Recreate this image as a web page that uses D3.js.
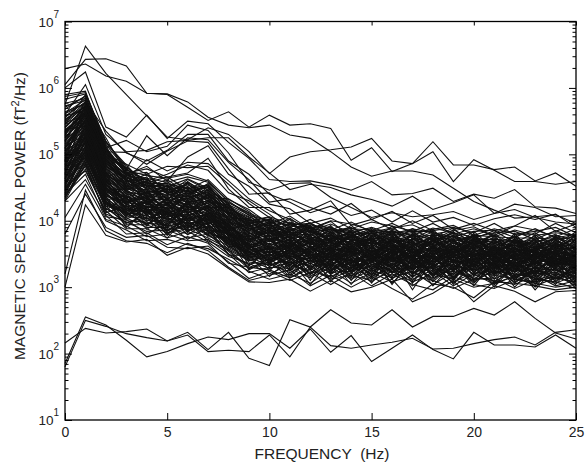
<!DOCTYPE html>
<html>
<head>
<meta charset="utf-8">
<script src="https://cdn.jsdelivr.net/npm/d3@7"></script>
<style>
html, body { margin: 0; padding: 0; background: #fff; }
text { font-family: "Liberation Sans", Arial, sans-serif; fill: #222; }
</style>
</head>
<body>
<div id="container"></div>
<script>
const frequency = [0,1,2,3,4,5,6,7,8,9,10,11,12,13,14,15,16,17,18,19,20,21,22,23,24,25];
const xTicks = [0,5,10,15,20,25];
const yDecades = [1,2,3,4,5,6,7];
const yMinor = [2,3,4,5,6,7,8,9];

// all series are log10 of spectral power
const lowerSeries = [
  [1.85,2.55,2.43,2.2,1.95,2.03,2.15,2.25,2.21,2.30,2.30,2.08,2.37,2.02,2.27,1.88,2.08,2.28,2.06,1.92,2.32,2.13,2.13,2.10,2.28,2.08],
  [2.16,2.38,2.31,2.33,2.37,2.19,2.32,2.06,2.32,1.93,1.82,2.51,2.40,2.66,2.46,2.43,2.66,2.40,2.56,2.56,2.68,2.58,2.78,2.53,2.31,2.22],
  [1.80,2.50,2.41,2.30,2.24,2.19,2.28,2.03,2.05,2.03,2.28,1.95,2.40,2.12,2.08,2.13,2.17,2.23,2.07,2.08,2.15,2.21,2.25,2.13,2.32,2.36]
];

const upperSeries = [
  [6.05,6.43,6.44,6.33,5.92,5.90,5.71,5.51,5.64,5.41,5.59,5.44,5.46,5.39,4.91,5.10,4.74,4.86,5.19,4.84,4.84,4.77,4.81,4.60,4.72,4.52],
  [6.29,6.36,6.18,6.10,5.92,5.91,5.79,5.56,5.44,5.40,5.44,5.29,5.24,5.04,4.81,4.67,4.75,4.75,4.69,4.49,4.29,4.16,4.04,4.06,4.09,3.96],
  [5.75,6.63,6.22,5.90,5.58,5.26,5.22,5.40,5.30,5.04,4.71,4.96,5.04,5.07,5.11,5.24,4.90,4.86,5.04,4.59,4.92,4.76,4.59,4.59,4.55,4.59],
  [6.00,6.24,5.41,5.26,5.59,5.24,5.50,5.46,5.18,4.94,4.62,4.59,4.60,4.54,4.46,4.59,4.39,4.41,4.49,4.29,4.40,4.34,4.47,4.21,4.19,4.11],
  [5.60,6.05,5.30,5.04,5.06,5.19,5.21,5.25,5.25,4.96,4.72,4.47,4.55,4.50,4.39,4.32,4.22,4.37,4.17,4.27,4.39,4.11,4.25,4.20,4.06,4.08],
  [5.90,5.95,5.10,5.21,5.04,5.12,5.44,5.36,5.02,4.58,4.46,4.56,4.57,4.35,4.20,4.05,4.12,4.06,4.09,4.14,4.02,4.11,4.17,4.05,3.98,3.95],
  [5.20,5.80,5.35,5.02,4.90,5.06,5.30,5.30,4.90,4.70,4.40,4.28,4.12,4.22,4.08,4.16,3.98,4.15,3.98,4.05,3.93,4.03,4.09,4.02,4.10,3.90],
  [5.45,5.90,5.20,4.78,5.28,4.98,5.25,5.22,4.88,4.62,4.28,4.33,4.20,4.10,4.26,4.02,4.14,3.96,4.08,3.87,3.96,3.85,3.92,4.08,3.84,3.95],
  [5.00,5.60,5.04,5.03,4.85,5.05,5.20,5.18,4.78,4.40,4.42,4.10,4.16,4.30,3.93,4.02,3.87,4.00,3.85,3.90,3.82,3.96,3.79,3.80,3.96,3.82],
  [5.30,5.70,5.25,4.70,4.82,4.60,4.96,5.13,4.70,4.52,4.25,4.18,3.96,4.04,3.88,3.98,3.92,3.84,3.96,3.80,3.88,3.78,3.92,3.86,3.76,3.88],
  [4.70,5.50,4.95,4.62,4.92,4.75,4.88,4.86,4.60,4.33,4.15,4.02,3.88,4.00,3.95,3.85,3.96,3.82,3.87,3.93,3.78,3.88,3.80,3.84,3.90,3.76],
  [5.10,5.65,5.00,4.85,4.70,4.82,4.80,4.82,4.55,4.26,4.05,3.90,4.02,3.86,3.98,3.83,3.89,3.94,3.80,3.85,3.91,3.76,3.86,3.78,3.82,3.78],
  [4.90,5.75,5.05,4.72,4.78,4.66,4.72,4.94,4.48,4.20,4.20,3.94,3.85,3.95,3.82,3.90,3.80,3.88,3.82,3.76,3.84,3.86,3.75,3.88,3.74,3.80],
  [5.55,5.85,4.98,4.80,4.60,4.70,4.84,4.76,4.42,4.30,4.10,3.86,3.96,3.82,3.89,3.80,3.85,3.78,3.89,3.82,3.75,3.82,3.84,3.72,3.85,3.74]
];

const bandSeries = [
  [3.00,4.24,3.78,3.68,3.72,3.48,3.60,3.50,3.28,3.08,3.07,3.12,2.94,3.10,2.93,3.00,3.12,2.78,2.91,3.10,2.78,3.02,2.94,2.78,2.93,2.95],
  [3.20,4.46,3.85,3.70,3.66,3.52,3.66,3.55,3.30,3.10,3.18,3.26,3.02,3.18,3.00,3.16,2.98,2.82,3.05,3.00,2.84,3.08,3.06,3.02,2.96,3.00],
  [3.80,4.40,3.90,3.75,3.78,3.60,3.58,3.62,3.38,3.13,3.24,3.10,3.22,3.04,3.22,3.02,3.20,3.04,2.96,3.16,3.04,2.98,3.12,3.06,3.00,3.04],
  [4.05,4.55,4.00,3.86,3.70,3.72,3.64,3.58,3.42,3.24,3.12,3.20,3.06,3.26,3.06,3.22,3.08,3.18,3.10,2.98,3.12,3.14,2.98,3.12,3.08,2.98],
  [4.30,4.62,4.08,3.80,3.82,3.64,3.76,3.66,3.36,3.30,3.26,3.14,3.28,3.12,3.18,3.10,3.24,3.08,3.20,3.12,3.00,3.06,3.16,3.02,3.14,3.08],
  [4.40,4.70,4.02,3.92,3.76,3.80,3.70,3.72,3.50,3.22,3.30,3.28,3.14,3.30,3.12,3.26,3.14,3.24,3.04,3.22,3.14,3.10,3.04,3.18,3.02,3.10],
  [4.52,4.75,4.15,3.88,3.88,3.74,3.84,3.68,3.46,3.36,3.20,3.34,3.24,3.16,3.30,3.16,3.30,3.12,3.26,3.08,3.22,3.18,3.12,3.08,3.16,3.06],
  [4.48,4.82,4.10,3.98,3.84,3.86,3.74,3.80,3.54,3.28,3.36,3.22,3.36,3.22,3.24,3.32,3.18,3.30,3.14,3.28,3.10,3.24,3.20,3.14,3.06,3.18],
  [4.60,4.88,4.22,3.94,3.94,3.82,3.88,3.74,3.58,3.42,3.28,3.38,3.20,3.34,3.18,3.28,3.36,3.16,3.32,3.18,3.28,3.08,3.26,3.20,3.22,3.12],
  [4.35,4.92,4.18,4.04,3.90,3.90,3.80,3.86,3.50,3.34,3.42,3.26,3.40,3.26,3.36,3.20,3.26,3.38,3.20,3.24,3.16,3.30,3.14,3.26,3.18,3.24],
  [4.70,4.95,4.30,4.00,3.98,3.86,3.94,3.78,3.62,3.46,3.32,3.44,3.30,3.38,3.26,3.38,3.22,3.28,3.36,3.16,3.34,3.20,3.32,3.16,3.28,3.14],
  [4.58,5.00,4.26,4.10,3.96,3.94,3.86,3.92,3.56,3.40,3.46,3.34,3.44,3.30,3.42,3.24,3.40,3.22,3.30,3.34,3.24,3.36,3.18,3.30,3.12,3.26],
  [4.80,5.02,4.36,4.06,4.04,3.92,3.98,3.84,3.66,3.50,3.38,3.48,3.32,3.46,3.28,3.44,3.30,3.42,3.24,3.38,3.20,3.28,3.38,3.22,3.34,3.20],
  [4.45,5.06,4.32,4.16,4.00,4.00,3.90,3.96,3.60,3.44,3.50,3.36,3.50,3.34,3.46,3.34,3.44,3.26,3.44,3.26,3.40,3.22,3.30,3.36,3.24,3.32],
  [4.90,5.10,4.42,4.12,4.08,3.96,4.04,3.90,3.70,3.54,3.40,3.52,3.38,3.42,3.40,3.48,3.28,3.46,3.34,3.40,3.30,3.44,3.26,3.38,3.30,3.22],
  [4.65,5.12,4.38,4.22,4.06,4.04,3.96,4.02,3.64,3.48,3.54,3.42,3.54,3.40,3.50,3.30,3.46,3.36,3.48,3.30,3.46,3.32,3.42,3.28,3.40,3.28],
  [5.00,5.16,4.46,4.18,4.14,4.02,4.10,3.94,3.74,3.58,3.44,3.56,3.44,3.52,3.36,3.52,3.38,3.50,3.32,3.46,3.34,3.38,3.46,3.32,3.36,3.34],
  [4.75,5.18,4.44,4.26,4.10,4.10,4.00,4.06,3.68,3.52,3.58,3.46,3.48,3.56,3.44,3.40,3.54,3.34,3.52,3.36,3.42,3.48,3.30,3.44,3.32,3.38],
  [4.55,5.20,4.50,4.24,4.18,4.06,4.14,3.98,3.78,3.62,3.48,3.60,3.50,3.44,3.54,3.46,3.42,3.54,3.38,3.50,3.38,3.34,3.48,3.36,3.44,3.30],
  [4.85,5.24,4.48,4.30,4.12,4.14,4.04,4.10,3.72,3.56,3.62,3.50,3.58,3.48,3.48,3.56,3.34,3.48,3.46,3.42,3.50,3.40,3.36,3.46,3.34,3.42],
  [5.05,5.26,4.56,4.28,4.22,4.08,4.18,4.02,3.82,3.66,3.52,3.64,3.46,3.58,3.52,3.44,3.58,3.40,3.54,3.40,3.36,3.52,3.42,3.34,3.48,3.36],
  [4.62,5.28,4.52,4.34,4.16,4.16,4.08,4.14,3.76,3.60,3.66,3.54,3.62,3.46,3.58,3.50,3.48,3.58,3.42,3.54,3.44,3.42,3.50,3.40,3.38,3.46],
  [4.95,5.32,4.60,4.32,4.26,4.12,4.22,4.06,3.86,3.70,3.56,3.68,3.52,3.60,3.46,3.60,3.44,3.52,3.56,3.44,3.52,3.46,3.34,3.50,3.42,3.40],
  [4.72,5.34,4.58,4.38,4.20,4.20,4.12,4.18,3.80,3.64,3.70,3.58,3.66,3.54,3.62,3.42,3.60,3.46,3.60,3.48,3.40,3.56,3.44,3.42,3.50,3.34],
  [5.10,5.38,4.64,4.36,4.30,4.18,4.26,4.10,3.90,3.74,3.60,3.62,3.56,3.64,3.50,3.58,3.52,3.62,3.44,3.58,3.48,3.50,3.52,3.38,3.46,3.44],
  [4.82,5.40,4.62,4.42,4.24,4.24,4.16,4.22,3.84,3.68,3.74,3.66,3.70,3.50,3.66,3.54,3.62,3.44,3.62,3.46,3.56,3.42,3.56,3.48,3.40,3.48],
  [5.15,5.44,4.68,4.40,4.34,4.22,4.30,4.14,3.94,3.78,3.64,3.72,3.60,3.68,3.56,3.64,3.50,3.66,3.50,3.62,3.46,3.58,3.46,3.54,3.44,3.38],
  [4.68,5.46,4.66,4.46,4.28,4.28,4.20,4.26,3.88,3.72,3.78,3.60,3.74,3.58,3.70,3.48,3.64,3.56,3.58,3.52,3.60,3.48,3.54,3.46,3.52,3.46],
  [5.20,5.50,4.72,4.44,4.38,4.26,4.34,4.18,3.98,3.82,3.68,3.76,3.64,3.72,3.60,3.68,3.56,3.60,3.64,3.50,3.64,3.44,3.60,3.42,3.56,3.42],
  [4.88,5.52,4.70,4.50,4.32,4.32,4.24,4.30,3.92,3.76,3.82,3.70,3.68,3.62,3.74,3.58,3.70,3.52,3.66,3.56,3.54,3.62,3.48,3.58,3.46,3.50],
  [5.25,5.55,4.76,4.48,4.42,4.30,4.38,4.22,4.02,3.86,3.72,3.80,3.72,3.66,3.64,3.72,3.54,3.68,3.54,3.66,3.50,3.60,3.58,3.52,3.54,3.48],
  [4.98,5.58,4.74,4.54,4.36,4.36,4.28,4.34,3.96,3.80,3.86,3.74,3.76,3.70,3.68,3.62,3.74,3.58,3.70,3.60,3.62,3.54,3.64,3.50,3.60,3.44],
  [5.30,5.60,4.80,4.52,4.46,4.34,4.42,4.26,4.06,3.90,3.76,3.84,3.66,3.74,3.72,3.66,3.68,3.72,3.60,3.54,3.68,3.58,3.52,3.62,3.50,3.54],
  [5.08,5.62,4.78,4.58,4.40,4.40,4.32,4.38,4.00,3.84,3.90,3.78,3.80,3.64,3.76,3.70,3.60,3.64,3.74,3.62,3.58,3.66,3.56,3.56,3.64,3.52],
  [5.35,5.65,4.84,4.56,4.50,4.38,4.46,4.30,4.10,3.94,3.80,3.88,3.74,3.78,3.66,3.74,3.72,3.66,3.62,3.70,3.56,3.52,3.66,3.54,3.58,3.58],
  [4.78,5.68,4.82,4.62,4.44,4.44,4.36,4.42,4.04,3.88,3.94,3.82,3.84,3.76,3.80,3.64,3.76,3.70,3.68,3.58,3.72,3.64,3.60,3.68,3.48,3.62],
  [5.40,5.70,4.88,4.60,4.54,4.42,4.50,4.34,4.14,3.98,3.84,3.90,3.78,3.82,3.70,3.78,3.66,3.76,3.64,3.72,3.66,3.70,3.54,3.60,3.66,3.56],
  [5.18,5.72,4.86,4.66,4.48,4.48,4.40,4.46,4.08,3.92,3.98,3.86,3.86,3.72,3.84,3.72,3.80,3.62,3.76,3.66,3.60,3.68,3.68,3.58,3.62,3.64],
  [5.45,5.74,4.92,4.64,4.58,4.46,4.54,4.38,4.18,4.02,3.88,3.94,3.82,3.88,3.74,3.82,3.70,3.78,3.72,3.74,3.70,3.62,3.72,3.64,3.56,3.68],
  [4.92,5.76,4.90,4.70,4.52,4.52,4.44,4.50,4.12,3.96,4.02,3.92,3.90,3.80,3.86,3.76,3.84,3.74,3.66,3.78,3.64,3.74,3.62,3.70,3.70,3.60],
  [5.50,5.78,4.96,4.68,4.62,4.50,4.58,4.42,4.22,4.06,3.92,3.98,3.88,3.84,3.90,3.70,3.86,3.68,3.80,3.70,3.76,3.66,3.76,3.60,3.74,3.66],
  [5.28,5.80,5.00,4.74,4.56,4.56,4.48,4.54,4.16,4.00,4.06,3.96,3.92,3.90,3.78,3.84,3.78,3.82,3.70,3.82,3.68,3.78,3.66,3.72,3.60,3.72],
  [4.50,5.45,4.55,4.28,4.35,4.10,4.25,4.05,3.72,3.58,3.42,3.50,3.40,3.50,3.32,3.36,3.48,3.28,3.40,3.32,3.26,3.34,3.24,3.28,3.26,3.16],
  [5.12,5.30,4.40,4.20,4.02,4.18,3.92,4.08,3.82,3.52,3.60,3.30,3.46,3.28,3.38,3.42,3.24,3.32,3.28,3.20,3.36,3.12,3.28,3.10,3.20,3.10],
  [4.38,5.08,4.25,4.14,4.22,3.84,4.06,3.88,3.64,3.38,3.34,3.40,3.16,3.36,3.14,3.34,3.16,3.34,3.12,3.30,3.08,3.26,3.08,3.24,3.10,3.22],
  [5.38,5.42,4.62,4.24,4.44,4.14,4.38,4.00,3.96,3.62,3.72,3.44,3.60,3.32,3.56,3.26,3.52,3.20,3.50,3.14,3.44,3.16,3.40,3.12,3.38,3.02],
  [4.60,5.22,4.70,4.08,4.30,3.88,4.32,3.82,3.86,3.32,3.58,3.18,3.52,3.08,3.44,3.06,3.46,2.96,3.42,3.04,3.40,3.00,3.34,2.96,3.30,2.98],
  [5.48,5.58,5.02,4.52,4.66,4.24,4.52,4.20,4.20,3.72,3.88,3.54,3.78,3.42,3.72,3.38,3.66,3.30,3.62,3.26,3.58,3.24,3.50,3.20,3.52,3.26],
  [5.22,5.48,4.66,4.76,4.24,4.54,4.10,4.40,3.88,3.94,3.50,3.74,3.34,3.70,3.24,3.62,3.22,3.56,3.18,3.48,3.18,3.46,3.22,3.40,3.16,3.52],
  [4.42,5.14,4.16,4.36,3.92,4.28,3.82,4.16,3.60,3.66,3.24,3.58,3.10,3.54,3.10,3.50,3.04,3.44,3.02,3.36,3.02,3.40,3.00,3.32,3.04,3.40],
  [5.58,5.66,5.06,4.58,4.70,4.40,4.62,4.46,4.26,3.88,3.96,3.68,3.86,3.60,3.78,3.52,3.82,3.48,3.78,3.44,3.74,3.36,3.70,3.34,3.68,3.30],
  [4.84,5.36,4.46,4.48,4.12,4.34,4.02,4.24,3.78,3.76,3.46,3.62,3.26,3.60,3.20,3.54,3.32,3.60,3.16,3.52,3.22,3.50,3.10,3.44,3.08,3.36],
  [5.02,5.54,4.74,4.34,4.48,4.08,4.46,3.96,4.02,3.54,3.66,3.32,3.62,3.22,3.60,3.18,3.56,3.14,3.52,3.12,3.50,3.06,3.46,3.04,3.42,3.08],
  [5.62,5.82,5.08,4.72,4.64,4.58,4.66,4.58,4.30,4.08,4.00,3.84,3.94,3.86,3.82,3.80,3.88,3.76,3.78,3.76,3.72,3.72,3.70,3.66,3.78,3.70],
  [4.66,5.04,4.34,3.90,4.16,3.78,4.12,3.76,3.74,3.26,3.44,3.16,3.42,3.14,3.34,3.12,3.36,3.10,3.34,3.06,3.32,3.04,3.36,3.00,3.36,3.04],
  [5.32,5.64,4.94,4.50,4.60,4.32,4.56,4.28,4.24,3.80,3.94,3.58,3.90,3.50,3.84,3.46,3.76,3.42,3.72,3.38,3.70,3.30,3.74,3.26,3.66,3.24],
  [4.76,5.26,4.54,4.26,4.36,3.98,4.30,3.92,3.90,3.46,3.64,3.24,3.56,3.20,3.48,3.14,3.50,3.06,3.48,3.10,3.48,3.12,3.44,3.08,3.40,3.14],
  [5.68,5.88,5.04,4.76,4.68,4.64,4.70,4.60,4.28,4.12,3.98,3.94,3.96,3.82,3.88,3.86,3.82,3.84,3.84,3.68,3.78,3.76,3.74,3.74,3.72,3.76],
  [4.30,4.86,4.06,4.02,3.80,3.96,3.72,3.90,3.48,3.48,3.16,3.42,3.04,3.42,3.04,3.40,3.06,3.36,3.08,3.34,3.06,3.36,3.06,3.30,3.12,3.34],
  [5.42,5.70,4.86,4.62,4.40,4.48,4.26,4.36,3.84,3.98,3.56,3.80,3.42,3.76,3.36,3.70,3.38,3.64,3.34,3.60,3.32,3.56,3.32,3.48,3.28,3.58],
  [4.54,4.98,4.28,3.96,4.10,3.80,3.98,3.70,3.56,3.30,3.38,3.14,3.32,3.12,3.26,3.08,3.28,3.02,3.24,3.02,3.20,3.04,3.18,3.06,3.18,3.02],
  [5.06,5.46,4.64,4.44,4.20,4.30,4.08,4.20,3.76,3.70,3.36,3.60,3.18,3.56,3.16,3.46,3.12,3.40,3.10,3.42,3.12,3.32,3.16,3.26,3.14,3.30],
  [5.52,5.72,4.98,4.66,4.52,4.54,4.34,4.44,4.02,4.04,3.70,3.90,3.58,3.80,3.52,3.74,3.46,3.70,3.42,3.64,3.42,3.60,3.40,3.56,3.36,3.50],
  [4.86,5.34,4.60,4.14,4.34,3.92,4.28,3.86,3.84,3.42,3.62,3.26,3.64,3.24,3.54,3.22,3.58,3.18,3.56,3.24,3.54,3.18,3.52,3.22,3.46,3.20]
];

const denseSeries = [
  [5.05,5.41,4.71,4.33,4.19,4.27,4.02,4.11,3.97,3.83,3.61,3.77,3.53,3.71,3.37,3.55,3.63,3.41,3.52,3.73,3.34,3.62,3.45,3.29,3.67,3.41],
  [4.57,5.12,4.49,4.41,4.08,3.93,4.21,4.07,3.92,3.71,3.83,3.49,3.68,3.56,3.81,3.33,3.47,3.69,3.38,3.51,3.66,3.28,3.57,3.72,3.35,3.59],
  [5.71,5.87,5.13,4.52,4.37,4.46,4.18,4.31,4.12,3.95,3.72,3.59,3.84,3.47,3.62,3.75,3.41,3.57,3.74,3.36,3.53,3.69,3.31,3.49,3.63,3.27],
  [4.33,4.91,4.24,4.11,4.29,4.03,3.89,4.14,3.83,3.58,3.69,3.85,3.42,3.63,3.51,3.68,3.79,3.37,3.59,3.45,3.71,3.38,3.64,3.52,3.39,3.74],
  [5.34,5.63,4.93,4.61,4.27,4.38,4.49,4.17,4.06,4.01,3.77,3.66,3.52,3.79,3.64,3.43,3.71,3.58,3.33,3.68,3.47,3.55,3.78,3.37,3.54,3.61],
  [4.91,5.27,4.37,4.29,4.43,4.12,4.06,4.23,3.94,3.67,3.88,3.55,3.73,3.38,3.69,3.57,3.35,3.74,3.49,3.62,3.29,3.63,3.41,3.66,3.25,3.47],
  [5.83,5.91,5.17,4.84,4.51,4.62,4.41,4.52,4.19,3.99,4.05,3.73,3.89,3.67,3.54,3.82,3.63,3.45,3.69,3.81,3.56,3.44,3.71,3.58,3.33,3.69],
  [4.47,5.03,4.41,4.19,3.99,4.21,4.14,3.97,3.87,3.79,3.55,3.71,3.48,3.31,3.59,3.46,3.72,3.53,3.29,3.57,3.39,3.61,3.27,3.53,3.44,3.35],
  [5.26,5.59,4.83,4.47,4.59,4.24,4.33,4.44,4.08,3.86,3.99,3.62,3.81,3.58,3.76,3.39,3.61,3.79,3.47,3.69,3.52,3.33,3.62,3.77,3.41,3.53],
  [4.73,5.18,4.31,4.38,4.11,4.26,3.91,4.03,3.95,3.62,3.74,3.41,3.57,3.74,3.29,3.53,3.67,3.32,3.55,3.28,3.64,3.47,3.23,3.59,3.68,3.31],
  [5.77,5.84,5.09,4.69,4.73,4.41,4.57,4.35,4.33,4.14,3.86,4.02,3.71,3.93,3.61,3.81,3.54,3.73,3.87,3.56,3.77,3.49,3.81,3.47,3.71,3.51],
  [4.39,4.78,4.12,4.23,3.87,4.07,3.79,3.99,3.71,3.51,3.47,3.67,3.25,3.47,3.41,3.19,3.56,3.27,3.46,3.19,3.49,3.21,3.43,3.17,3.49,3.24],
  [5.16,5.51,4.67,4.56,4.32,4.44,4.11,4.29,4.11,3.77,3.91,3.69,3.47,3.83,3.57,3.69,3.43,3.81,3.58,3.39,3.72,3.54,3.37,3.69,3.47,3.63],
  [4.63,5.31,4.43,4.07,4.25,3.96,4.17,3.85,3.81,3.63,3.37,3.53,3.69,3.29,3.63,3.37,3.54,3.23,3.63,3.41,3.31,3.58,3.26,3.51,3.33,3.45],
  [5.64,5.76,5.01,4.79,4.46,4.59,4.37,4.56,4.24,4.09,3.81,3.97,3.76,3.61,3.87,3.64,3.77,3.51,3.66,3.84,3.47,3.71,3.59,3.39,3.76,3.57],
  [4.81,5.21,4.51,4.17,4.31,4.01,3.84,4.09,3.89,3.57,3.79,3.37,3.61,3.44,3.28,3.61,3.39,3.63,3.26,3.46,3.59,3.26,3.53,3.35,3.57,3.18],
  [5.41,5.69,4.89,4.63,4.42,4.52,4.27,4.47,4.14,3.91,4.03,3.78,3.93,3.53,3.79,3.59,3.84,3.47,3.73,3.53,3.81,3.41,3.67,3.62,3.52,3.79],
  [4.52,5.09,4.33,4.02,4.18,3.86,4.03,3.94,3.67,3.49,3.59,3.29,3.39,3.58,3.22,3.41,3.61,3.19,3.41,3.59,3.22,3.43,3.11,3.42,3.59,3.28],
  [5.57,5.79,5.11,4.71,4.55,4.47,4.51,4.32,4.21,4.02,3.93,3.81,3.67,3.89,3.71,3.87,3.59,3.71,3.83,3.61,3.84,3.57,3.76,3.43,3.65,3.83],
  [4.97,5.37,4.59,4.31,4.09,4.33,3.97,4.19,3.91,3.69,3.85,3.51,3.74,3.36,3.67,3.49,3.31,3.67,3.43,3.24,3.57,3.34,3.61,3.31,3.51,3.37],
  [5.09,5.53,4.79,4.43,4.39,4.17,4.41,4.13,4.04,3.82,3.64,3.88,3.59,3.79,3.42,3.73,3.51,3.61,3.77,3.47,3.67,3.37,3.56,3.71,3.29,3.66],
  [4.44,4.87,4.22,4.13,3.93,4.13,3.86,3.91,3.79,3.44,3.53,3.44,3.21,3.41,3.53,3.27,3.44,3.48,3.18,3.43,3.27,3.49,3.19,3.37,3.54,3.21],
  [5.73,5.81,5.15,4.77,4.61,4.51,4.63,4.49,4.27,4.11,3.89,4.04,3.83,3.72,3.93,3.68,3.92,3.65,3.75,3.89,3.61,3.82,3.51,3.79,3.58,3.77],
  [4.69,5.16,4.47,4.21,4.27,4.09,3.94,4.04,3.77,3.73,3.43,3.63,3.51,3.24,3.47,3.63,3.27,3.51,3.37,3.57,3.33,3.29,3.47,3.57,3.21,3.43],
  [5.24,5.61,4.91,4.49,4.47,4.37,4.23,4.39,3.99,3.89,3.75,3.92,3.63,3.83,3.49,3.78,3.66,3.43,3.71,3.51,3.69,3.59,3.33,3.63,3.73,3.48],
  [4.36,4.83,4.19,3.97,4.05,3.74,4.09,3.83,3.69,3.55,3.31,3.47,3.35,3.49,3.16,3.44,3.23,3.42,3.21,3.47,3.17,3.41,3.29,3.13,3.45,3.16],
  [5.49,5.71,5.03,4.59,4.63,4.31,4.59,4.37,4.16,3.97,3.84,3.71,3.92,3.68,3.83,3.51,3.73,3.86,3.53,3.75,3.63,3.79,3.44,3.75,3.49,3.72],
  [4.77,5.29,4.57,4.09,4.21,4.19,3.88,4.01,3.85,3.61,3.51,3.69,3.43,3.57,3.33,3.56,3.41,3.29,3.57,3.31,3.46,3.31,3.59,3.27,3.41,3.55],
  [5.33,5.67,4.81,4.67,4.35,4.49,4.19,4.41,4.09,3.85,3.97,3.63,3.79,3.91,3.59,3.83,3.49,3.74,3.59,3.79,3.41,3.67,3.63,3.44,3.70,3.39],
  [4.49,4.96,4.27,4.16,4.13,3.91,4.01,3.79,3.75,3.47,3.41,3.57,3.28,3.53,3.43,3.17,3.47,3.26,3.51,3.14,3.38,3.52,3.13,3.39,3.19,3.57],
  [5.87,5.93,5.19,4.81,4.57,4.66,4.47,4.62,4.32,4.17,3.95,4.07,3.87,3.99,3.75,3.89,3.69,3.88,3.71,3.86,3.73,3.85,3.67,3.82,3.61,3.80],
  [4.89,5.23,4.45,4.37,4.15,4.23,3.99,4.12,3.93,3.59,3.73,3.46,3.71,3.33,3.58,3.41,3.69,3.36,3.61,3.37,3.61,3.23,3.49,3.46,3.31,3.49],
  [5.13,5.49,4.73,4.46,4.29,4.35,4.16,4.27,4.01,3.75,3.87,3.75,3.55,3.69,3.85,3.48,3.75,3.55,3.35,3.71,3.43,3.73,3.39,3.55,3.77,3.32],
  [4.41,4.94,4.36,4.05,4.17,3.82,3.93,3.81,3.73,3.40,3.49,3.35,3.45,3.19,3.39,3.24,3.33,3.47,3.16,3.39,3.11,3.38,3.23,3.49,3.26,3.13],
  [5.61,5.77,5.07,4.73,4.49,4.56,4.43,4.54,4.18,4.05,3.78,3.86,3.97,3.75,3.68,3.85,3.57,3.80,3.62,3.77,3.58,3.76,3.49,3.67,3.80,3.54],
  [4.64,5.11,4.39,4.25,4.03,4.15,3.95,4.05,3.83,3.65,3.39,3.65,3.37,3.61,3.31,3.52,3.29,3.59,3.31,3.53,3.25,3.51,3.35,3.19,3.55,3.26],
  [5.37,5.62,4.87,4.54,4.53,4.25,4.45,4.21,4.13,3.93,3.69,3.83,3.65,3.87,3.55,3.76,3.62,3.39,3.81,3.49,3.75,3.47,3.73,3.41,3.61,3.74],
  [4.94,5.33,4.63,4.27,4.38,4.05,4.24,4.15,3.81,3.78,3.58,3.43,3.72,3.43,3.61,3.29,3.57,3.44,3.27,3.63,3.35,3.57,3.29,3.61,3.37,3.43],
  [5.53,5.73,4.97,4.69,4.41,4.53,4.29,4.51,4.23,3.96,4.01,3.75,3.91,3.70,3.77,3.65,3.85,3.53,3.69,3.58,3.79,3.52,3.69,3.53,3.75,3.60],
  [4.46,5.01,4.29,4.12,3.95,4.11,3.85,3.95,3.65,3.53,3.35,3.56,3.30,3.45,3.24,3.47,3.21,3.39,3.29,3.11,3.41,3.19,3.37,3.24,3.43,3.11]
];

const width = 586, height = 462;
const margin = { left: 65, top: 21.5, right: 10, bottom: 42 };

function main() {
    const svg = d3.select("#container")
        .append("svg")
        .attr("width", width)
        .attr("height", height);

    const x = d3.scaleLinear()
        .domain([0, 25])
        .range([margin.left, width - margin.right]);
    const y = d3.scaleLog()
        .domain([10, 1e7])
        .range([height - margin.bottom, margin.top]);

    const line = d3.line()
        .x((d, i) => x(frequency[i]))
        .y(d => y(Math.pow(10, d)));

    svg.append("g")
        .selectAll("path")
        .data([...bandSeries, ...denseSeries, ...upperSeries, ...lowerSeries])
        .join("path")
        .attr("d", line)
        .attr("fill", "none")
        .attr("stroke", "#111")
        .attr("stroke-width", 1.1);

    drawAxes(svg, x, y);

    svg.append("text")
        .attr("x", 322)
        .attr("y", 459)
        .attr("text-anchor", "middle")
        .attr("font-size", 15.5)
        .attr("xml:space", "preserve")
        .text("FREQUENCY  (Hz)");

    const yLabel = svg.append("text")
        .attr("text-anchor", "middle")
        .attr("font-size", 15.5)
        .attr("transform", "translate(25,216) rotate(-90)");
    yLabel.append("tspan").text("MAGNETIC SPECTRAL POWER (fT");
    yLabel.append("tspan").attr("dy", -6).attr("font-size", 11).text("2");
    yLabel.append("tspan").attr("dy", 6).text("/Hz)");
}

function drawAxes(svg, x, y) {
    const x0 = x.range()[0], x1 = x.range()[1];
    const y0 = y.range()[0], y1 = y.range()[1];

    svg.append("rect")
        .attr("x", x0)
        .attr("y", y1)
        .attr("width", x1 - x0)
        .attr("height", y0 - y1)
        .attr("fill", "none")
        .attr("stroke", "#000")
        .attr("stroke-width", 1.3);

    // x axis with inward ticks, longer at the bottom than at the top
    const bottom = svg.append("g")
        .attr("transform", `translate(0,${y0})`)
        .call(d3.axisBottom(x).tickValues(xTicks).tickSize(-7).tickPadding(9).tickFormat(d3.format("d")));
    const top = svg.append("g")
        .attr("transform", `translate(0,${y1})`)
        .call(d3.axisTop(x).tickValues(xTicks).tickSize(-4).tickFormat(""));
    [bottom, top].forEach(g => {
        g.select(".domain").remove();
        g.selectAll("line").attr("stroke", "#000");
    });
    bottom.selectAll("text")
        .attr("font-size", 14)
        .attr("font-family", null)
        .attr("dy", "0.6em");

    // y axis, decades with long ticks and the 2..9 multiples with short ones
    const minorValues = [];
    yDecades.slice(0, -1).forEach(e => yMinor.forEach(m => minorValues.push(m * Math.pow(10, e))));
    const majorValues = yDecades.map(e => Math.pow(10, e));

    [[d3.axisLeft, x0], [d3.axisRight, x1]].forEach(([axis, px]) => {
        [[minorValues, -3.5], [majorValues, -7]].forEach(([vals, len]) => {
            const g = svg.append("g")
                .attr("transform", `translate(${px},0)`)
                .call(axis(y).tickValues(vals).tickSize(len).tickFormat(""));
            g.select(".domain").remove();
            g.selectAll("line").attr("stroke", "#000");
        });
    });

    const labels = svg.append("g")
        .selectAll("text")
        .data(yDecades)
        .join("text")
        .attr("x", x0 - 6)
        .attr("y", d => y(Math.pow(10, d)) + 5)
        .attr("text-anchor", "end")
        .attr("font-size", 13.5);
    labels.append("tspan").text("10");
    labels.append("tspan")
        .attr("dy", -9)
        .attr("font-size", 10)
        .text(d => d);
}

main();
</script>
</body>
</html>
